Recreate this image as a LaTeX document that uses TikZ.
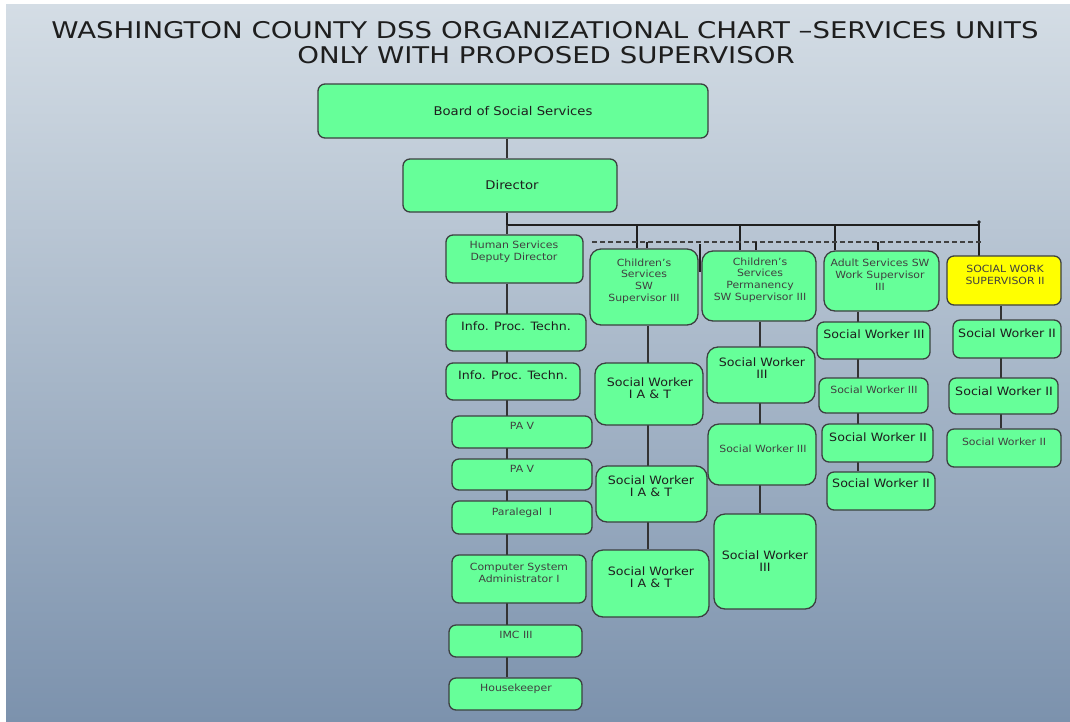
\documentclass[tikz,border=0pt]{standalone}
\usepackage{fontspec}
\setmainfont[FakeStretch=1.1]{DejaVu Sans}
\newfontfamily\titlefont[FakeStretch=1.2]{DejaVu Sans}
\usetikzlibrary{fit}
\pgfdeclarelayer{back}
\pgfdeclarelayer{bg}
\pgfsetlayers{back,bg,main}

\definecolor{boxgreen}{RGB}{102,255,153}
\definecolor{boxyellow}{RGB}{255,255,0}
\definecolor{edge}{RGB}{60,64,64}
\definecolor{bgtop}{RGB}{212,221,229}
\definecolor{bgbot}{RGB}{124,146,173}
\definecolor{ink}{RGB}{30,30,30}

\tikzset{
 box/.style={draw=edge, line width=1.3pt, fill=boxgreen, rounded corners=7pt, inner sep=0pt},
 rbox/.style={box, rounded corners=11pt},
 ybox/.style={box, fill=boxyellow},
 head/.style={font=\fontsize{12}{14}\selectfont, text=ink, align=center, inner sep=0pt},
 big/.style={font=\fontsize{11.5}{12.5}\selectfont, text=ink, align=center, inner sep=0pt},
 sml/.style={font=\fontsize{9.9}{11.8}\selectfont, text=black!75, align=center, inner sep=0pt},
 title/.style={font=\titlefont\fontsize{23}{23}\selectfont, text=ink, inner sep=0pt, anchor=base},
 conn/.style={draw=black!80, line width=1.3pt},
 bus/.style={draw=black!88, line width=2pt},
 dline/.style={draw=black!75, line width=1.1pt, dash pattern=on 5pt off 3pt},
}
\newcommand\bx[6][box]{\node[#1, fit={(#3,#4) (#5,#6)}] (#2) {};}

\begin{document}
\begin{tikzpicture}[x=1pt,y=-1pt]
\useasboundingbox (0,0) rectangle (1070,721);
\begin{pgfonlayer}{back}
\fill[white] (0,0) rectangle (1070,721);
\shade[top color=bgtop, bottom color=bgbot] (6,4) rectangle (1070,721);
\end{pgfonlayer}

% title
\node[title] (title1) at (545,38.5) {WASHINGTON COUNTY DSS ORGANIZATIONAL CHART –SERVICES UNITS};
\node[title] (title2) at (546,63.5) {ONLY WITH PROPOSED SUPERVISOR};

% top
\bx{board}{318}{84}{708}{138}
\bx{dir}{403}{159}{617}{212}
\node[head] (tboard) at (513,111) {Board of Social Services};
\node[head] (tdir) at (512,185) {Director};

% column 1
\bx{hsd}{446}{235}{583}{283}
\bx{ipt1}{446}{314}{586}{351}
\bx{ipt2}{446}{363}{580}{400}
\bx{pa1}{452}{416}{592}{448}
\bx{pa2}{452}{459}{592}{490}
\bx{para}{452}{501}{592}{534}
\bx{csa}{452}{555}{586}{603}
\bx{imc}{449}{625}{582}{657}
\bx{hk}{449}{678}{582}{710}
\node[sml] (thsd) at (514,252) {Human Services\\Deputy Director};
\node[big] (tipt1) at (516,326) {Info. Proc. Techn.};
\node[big] (tipt2) at (513,375) {Info. Proc. Techn.};
\node[sml] (tpa1) at (522,426) {PA V};
\node[sml] (tpa2) at (522,469) {PA V};
\node[sml] (tpara) at (522,513) {Paralegal\ \ I};
\node[sml] (tcsa) at (519,573) {Computer System\\Administrator I};
\node[sml] (timc) at (516,635) {IMC III};
\node[sml] (thk) at (516,689) {Housekeeper};

% column 2
\bx[rbox]{cs}{590}{249}{698}{325}
\bx[rbox]{iat1}{595}{363}{703}{425}
\bx[rbox]{iat2}{596}{466}{707}{522}
\bx[rbox]{iat3}{592}{550}{709}{617}
\node[sml] (tcs) at (644,281) {Children’s\\Services\\SW\\Supervisor III};
\node[big] (tiat1) at (650,388) {Social Worker\\I A \& T};
\node[big] (tiat2) at (651,486) {Social Worker\\I A \& T};
\node[big] (tiat3) at (651,577) {Social Worker\\I A \& T};

% column 3
\bx[rbox]{perm}{702}{251}{816}{321}
\bx[rbox]{p1}{707}{347}{815}{403}
\bx[rbox]{p2}{708}{424}{816}{485}
\bx[rbox]{p3}{714}{514}{816}{609}
\node[sml] (tperm) at (760,280) {Children’s\\Services\\Permanency\\SW Supervisor III};
\node[big] (tp1) at (762,368) {Social Worker\\III};
\node[sml] (tp2) at (763,449) {Social Worker III};
\node[big] (tp3) at (765,561) {Social Worker\\III};

% column 4
\bx[rbox]{adult}{824}{251}{939}{311}
\bx{a1}{817}{322}{930}{359}
\bx{a2}{819}{378}{928}{413}
\bx{a3}{822}{424}{933}{462}
\bx{a4}{827}{472}{935}{510}
\node[sml] (tadult) at (880,275) {Adult Services SW\\Work Supervisor\\III};
\node[big] (ta1) at (874,334) {Social Worker III};
\node[sml] (ta2) at (874,390) {Social Worker III};
\node[big] (ta3) at (878,437) {Social Worker II};
\node[big] (ta4) at (881,483) {Social Worker II};

% column 5
\bx[ybox]{sws}{947}{256}{1061}{305}
\bx{s1}{953}{320}{1061}{358}
\bx{s2}{949}{378}{1058}{414}
\bx{s3}{947}{429}{1061}{467}
\node[sml] (tsws) at (1005,275) {SOCIAL WORK\\SUPERVISOR II};
\node[big] (ts1) at (1007,333) {Social Worker II};
\node[big] (ts2) at (1004,391) {Social Worker II};
\node[sml] (ts3) at (1004,442) {Social Worker II};

% connectors
\begin{pgfonlayer}{bg}
\coordinate (busL) at (507,225);
\coordinate (busR) at (979,225);
\coordinate (d1) at (637,225);
\coordinate (d2) at (740,225);
\coordinate (d3) at (835,225);
\coordinate (dsL) at (592,242);
\coordinate (dsR) at (983,242);
\coordinate (k1) at (647,242);
\coordinate (k2) at (756,242);
\coordinate (k3) at (878,242);
\coordinate (v1) at (700,244);
\coordinate (v2) at (700,272);
\coordinate (x2) at (648,300);
\coordinate (x3) at (760,300);
\coordinate (x4) at (858,300);
\coordinate (x5) at (1001,300);

\draw[conn] (board.south -| busL) -- (dir.north -| busL);
\draw[bus] (dir.south -| busL) -- (busL) -- (busR);
\draw[bus, line cap=round] ([yshift=3pt]busR) -- (busR |- sws.north);
\fill[black!88] ([yshift=3pt]busR) circle (1.8pt);
\draw[conn] (busL) -- (hsd.north -| busL);
\draw[conn] (hsd.south -| busL) -- (hk.north -| busL);
\draw[bus] (d1) -- (d1 |- cs.north);
\draw[bus] (d2) -- (d2 |- perm.north);
\draw[bus] (d3) -- (d3 |- adult.north);
\draw[dline] (dsL) -- (dsR);
\draw[bus] (k1) -- (k1 |- cs.north);
\draw[bus] (k2) -- (k2 |- perm.north);
\draw[bus] (k3) -- (k3 |- adult.north);
\draw[bus] (v1) -- (v2);
\draw[conn] (cs.south -| x2) -- (iat3.north -| x2);
\draw[conn] (perm.south -| x3) -- (p3.north -| x3);
\draw[conn] (adult.south -| x4) -- (a4.north -| x4);
\draw[conn] (sws.south -| x5) -- (s3.north -| x5);
\end{pgfonlayer}
\end{tikzpicture}
\end{document}
